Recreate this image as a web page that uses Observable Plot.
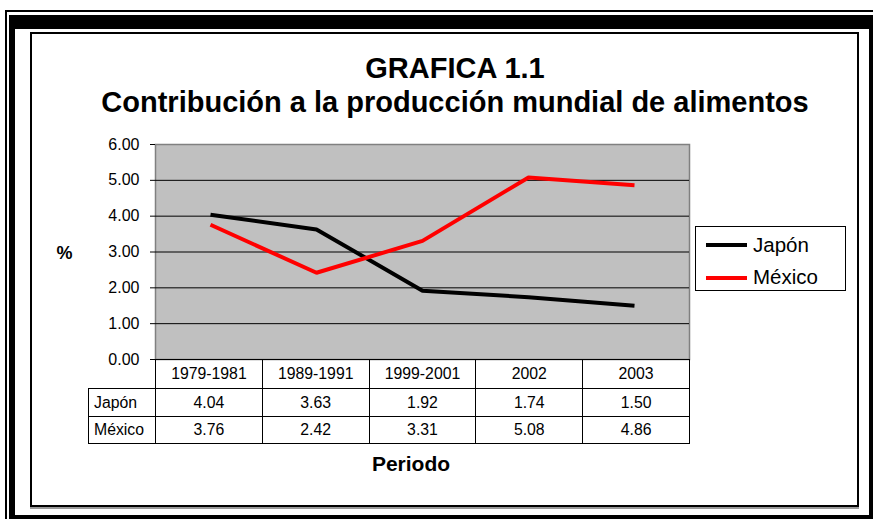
<!DOCTYPE html>
<html>
<head>
<meta charset="utf-8">
<script src="https://cdn.jsdelivr.net/npm/d3@7"></script>
<script src="https://cdn.jsdelivr.net/npm/@observablehq/plot@0.6"></script>
<style>
  html, body { margin: 0; padding: 0; background: #fff; }
  body { width: 873px; height: 519px; overflow: hidden; position: relative; font-family: "Liberation Sans", Arial, sans-serif; }
  .abs { position: absolute; }
  #outerThin { left: 5px; top: 10px; width: 900px; height: 540px; border: 2px solid #000; box-sizing: border-box; }
  #thick { left: 9px; top: 15px; width: 900px; height: 540px; border-style: solid; border-color: #000; border-width: 14px 0 0 6px; box-sizing: border-box; }
  #thickR { left: 869px; top: 15px; width: 10px; height: 520px; background: #000; }
  #thickB { left: 9px; top: 515px; width: 880px; height: 10px; background: #000; }
  #inner { left: 30px; top: 32px; width: 829px; height: 475px; border: 2px solid #000; box-sizing: border-box; box-shadow: 0 2px 0 #999; background: #fff; }
  #title { left: 0; top: 51px; width: 910px; text-align: center; font-weight: bold; font-size: 29px; line-height: 34px; color: #000; }
  #ylabel { left: 40px; top: 244px; width: 49px; text-align: center; font-weight: bold; font-size: 18px; line-height: 18px; }
  #xlabel { left: 311px; top: 453px; width: 200px; text-align: center; font-weight: bold; font-size: 21px; line-height: 21px; }
  #plot { left: 0; top: 0; }
  table.dt { position: absolute; border-collapse: collapse; font-size: 15.8px; table-layout: fixed; }
  table.dt td { border: 1px solid #000; text-align: center; padding: 0; box-sizing: border-box; }
  table.dt td.lab { text-align: left; padding-left: 5px; }
  table.dt td.blank { border: none; }
  #legend { left: 695px; top: 226px; width: 151px; height: 65px; border: 1px solid #000; box-sizing: border-box; background: #fff; }
  .lgline { position: absolute; left: 10px; width: 41px; height: 4px; }
  .lgtext { position: absolute; left: 57px; font-size: 20.5px; line-height: 24px; white-space: nowrap; }
</style>
</head>
<body>
<div id="outerThin" class="abs"></div>
<div id="thick" class="abs"></div>
<div id="thickR" class="abs"></div>
<div id="thickB" class="abs"></div>
<div id="inner" class="abs"></div>
<div id="title" class="abs"></div>
<div id="ylabel" class="abs"></div>
<div id="plot" class="abs"></div>
<div id="xlabel" class="abs"></div>
<div id="legend" class="abs"></div>
<script>
// ---- Data ----
const titleLine1 = "GRAFICA 1.1";
const titleLine2 = "Contribución a la producción mundial de alimentos";
const yAxisLabel = "%";
const xAxisLabel = "Periodo";
const periods = ["1979-1981", "1989-1991", "1999-2001", "2002", "2003"];
const seriesNames = ["Japón", "México"];
const seriesColors = ["#000000", "#ff0000"];
const japon = [4.04, 3.63, 1.92, 1.74, 1.50];
const mexico = [3.76, 2.42, 3.31, 5.08, 4.86];
const yTicks = [0, 1, 2, 3, 4, 5, 6];
const gridTicks = [1, 2, 3, 4, 5];

// ---- Build table for Plot ----
const seriesValues = [japon, mexico];
const rows = [];
seriesNames.forEach((s, i) => periods.forEach((p, j) => rows.push({series: s, period: p, value: seriesValues[i][j]})));

document.getElementById("title").innerHTML = titleLine1 + "<br>" + titleLine2;
document.getElementById("ylabel").textContent = yAxisLabel;
document.getElementById("xlabel").textContent = xAxisLabel;

const W = 873, H = 519;
const plot = Plot.plot({
  width: W,
  height: H,
  marginLeft: 155,
  marginRight: 184,
  marginTop: 144,
  marginBottom: 160,
  style: {background: "transparent", fontFamily: "'Liberation Sans', Arial, sans-serif", overflow: "visible"},
  x: {type: "point", domain: periods, padding: 0.5, axis: null},
  y: {domain: [0, 6], axis: null},
  color: {domain: seriesNames, range: seriesColors},
  marks: [
    Plot.frame({fill: "#c0c0c0", stroke: "#808080", strokeWidth: 1.5}),
    Plot.ruleY(gridTicks, {stroke: "#000", strokeWidth: 1}),
    Plot.axisY({ticks: yTicks, label: null, tickSize: 5, tickPadding: 11, fontSize: 16, tickFormat: d => d.toFixed(2), stroke: "#000", fill: "#000"}),
    Plot.line(rows, {x: "period", y: "value", z: "series", stroke: "series", strokeWidth: 4, strokeLinecap: "butt", strokeLinejoin: "miter", curve: "linear"})
  ]
});
document.getElementById("plot").appendChild(plot);

// ---- Data table below the plot, aligned with the x scale ----
const xs = plot.scale("x");
const step = (xs.range[1] - xs.range[0]) / periods.length;
const x0 = xs.range[0];
const labelLeft = 88;
const table = document.createElement("table");
table.className = "dt";
table.style.left = labelLeft + "px";
table.style.top = "359px";
table.style.width = (x0 + step * periods.length - labelLeft + 1) + "px";
const colgroup = document.createElement("colgroup");
const c0 = document.createElement("col"); c0.style.width = (x0 - labelLeft) + "px"; colgroup.appendChild(c0);
periods.forEach(() => { const c = document.createElement("col"); c.style.width = step + "px"; colgroup.appendChild(c); });
table.appendChild(colgroup);
const hdr = document.createElement("tr"); hdr.style.height = "29px";
const blank = document.createElement("td"); blank.className = "blank"; hdr.appendChild(blank);
periods.forEach(p => { const td = document.createElement("td"); td.textContent = p; hdr.appendChild(td); });
table.appendChild(hdr);
const rowHeights = ["28px", "27px"];
seriesNames.forEach((s, i) => {
  const tr = document.createElement("tr"); tr.style.height = rowHeights[i];
  const lab = document.createElement("td"); lab.className = "lab"; lab.textContent = s; tr.appendChild(lab);
  seriesValues[i].forEach(v => { const td = document.createElement("td"); td.textContent = v.toFixed(2); tr.appendChild(td); });
  table.appendChild(tr);
});
document.body.appendChild(table);

// ---- Legend ----
const legend = document.getElementById("legend");
seriesNames.forEach((s, i) => {
  const ln = document.createElement("div"); ln.className = "lgline";
  ln.style.top = (16 + i * 33) + "px"; ln.style.background = seriesColors[i];
  const tx = document.createElement("div"); tx.className = "lgtext";
  tx.style.top = (6 + i * 32) + "px"; tx.textContent = s;
  legend.appendChild(ln); legend.appendChild(tx);
});
</script>
</body>
</html>
